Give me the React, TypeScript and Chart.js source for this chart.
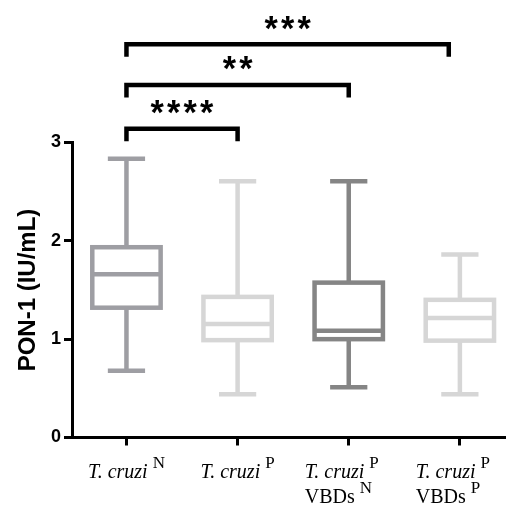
import React, { useEffect, useRef } from 'react';
import { Chart, registerables } from 'chart.js';

Chart.register(...registerables);

// ---- data ----
const categories = ['T. cruzi N', 'T. cruzi P', 'T. cruzi P VBDs N', 'T. cruzi P VBDs P'];
const labelMain = [['T. cruzi'], ['T. cruzi'], ['T. cruzi', 'VBDs'], ['T. cruzi', 'VBDs']];
const labelSup = [['N'], ['P'], ['P', 'N'], ['P', 'P']];
const mins = [0.68, 0.44, 0.51, 0.44];
const q1s = [1.32, 0.99, 1.0, 0.985];
const medians = [1.66, 1.155, 1.085, 1.215];
const q3s = [1.935, 1.43, 1.575, 1.4];
const maxs = [2.835, 2.605, 2.605, 1.86];
const boxColors = ['#9e9ea3', '#d6d6d6', '#858585', '#d6d6d6'];
const yTicks = [0, 1, 2, 3];
const yTitle = 'PON-1 (IU/mL)';
const bracketFrom = [0, 0, 0];
const bracketTo = [1, 2, 2.9];
const bracketY = [3.14, 3.585, 4.0];
const bracketStars = ['****', '**', '***'];

const BOX_W = 0.615;
const CAP_W = 0.335;
const LW = 4.5;

const boxPlugin = {
  id: 'boxplots',
  afterDatasetsDraw(chart: any) {
    const { ctx, scales } = chart;
    const x = scales.x;
    const y = scales.y;
    ctx.save();
    ctx.lineWidth = LW;
    ctx.lineCap = 'butt';
    ctx.lineJoin = 'miter';
    for (let i = 0; i < categories.length; i++) {
      const cx = x.getPixelForValue(i);
      const bl = x.getPixelForValue(i - BOX_W / 2);
      const br = x.getPixelForValue(i + BOX_W / 2);
      const cl = x.getPixelForValue(i - CAP_W / 2);
      const cr = x.getPixelForValue(i + CAP_W / 2);
      const pMin = y.getPixelForValue(mins[i]);
      const pQ1 = y.getPixelForValue(q1s[i]);
      const pMed = y.getPixelForValue(medians[i]);
      const pQ3 = y.getPixelForValue(q3s[i]);
      const pMax = y.getPixelForValue(maxs[i]);
      ctx.strokeStyle = boxColors[i];
      ctx.beginPath();
      ctx.moveTo(cx, pQ3);
      ctx.lineTo(cx, pMax);
      ctx.moveTo(cl, pMax);
      ctx.lineTo(cr, pMax);
      ctx.moveTo(cx, pQ1);
      ctx.lineTo(cx, pMin);
      ctx.moveTo(cl, pMin);
      ctx.lineTo(cr, pMin);
      ctx.moveTo(bl, pMed);
      ctx.lineTo(br, pMed);
      ctx.stroke();
      ctx.strokeRect(bl, pQ3, br - bl, pQ1 - pQ3);
    }
    ctx.restore();
  },
  afterDraw(chart: any) {
    const { ctx, scales } = chart;
    const x = scales.x;
    const y = scales.y;
    ctx.save();
    ctx.strokeStyle = '#000';
    ctx.lineWidth = LW;
    ctx.lineJoin = 'miter';
    ctx.lineCap = 'butt';
    const legPx = 12.5;
    const starFamily = 'Arial, "Liberation Sans", sans-serif';
    ctx.font = `bold 100px ${starFamily}`;
    const m = ctx.measureText('*');
    const gh = m.actualBoundingBoxAscent + m.actualBoundingBoxDescent;
    const size = gh > 0 ? (100 * 13) / gh : 40;
    ctx.font = `bold ${size}px ${starFamily}`;
    const m2 = ctx.measureText('*');
    const midOff = (m2.actualBoundingBoxAscent - m2.actualBoundingBoxDescent) / 2;
    for (let b = 0; b < bracketFrom.length; b++) {
      const xl = x.getPixelForValue(bracketFrom[b]);
      const xr = x.getPixelForValue(bracketTo[b]);
      const py = y.getPixelForValue(bracketY[b]);
      ctx.beginPath();
      ctx.moveTo(xl, py + legPx);
      ctx.lineTo(xl, py);
      ctx.lineTo(xr, py);
      ctx.lineTo(xr, py + legPx);
      ctx.stroke();
      ctx.font = `bold ${size}px ${starFamily}`;
      ctx.fillStyle = '#000';
      ctx.textAlign = 'center';
      ctx.textBaseline = 'alphabetic';
      const n = bracketStars[b].length;
      const pitch = 16.5;
      const scx = (xl + xr) / 2;
      const scy = py - 21.5;
      for (let k = 0; k < n; k++) {
        const sx = scx + (k - (n - 1) / 2) * pitch;
        ctx.fillText('*', sx, scy + midOff);
      }
    }
    const mainFont = 'italic 20px "Liberation Serif", "Times New Roman", serif';
    const plainFont = '20px "Liberation Serif", "Times New Roman", serif';
    const supFont = '17px "Liberation Serif", "Times New Roman", serif';
    const baseTop = x.top;
    ctx.fillStyle = '#000';
    ctx.textAlign = 'left';
    ctx.textBaseline = 'alphabetic';
    for (let i = 0; i < categories.length; i++) {
      const cx = x.getPixelForValue(i);
      const lines = labelMain[i];
      const widths: number[] = [];
      for (let l = 0; l < lines.length; l++) {
        ctx.font = l === 0 ? mainFont : plainFont;
        const w1 = ctx.measureText(lines[l]).width;
        ctx.font = supFont;
        const w2 = ctx.measureText(labelSup[i][l]).width;
        widths.push(w1 + 5 + w2);
      }
      const maxW = Math.max(...widths);
      const shift = lines.length > 1 ? -7 : 0;
      for (let l = 0; l < lines.length; l++) {
        const startX = lines.length > 1 ? cx - maxW / 2 + shift : cx - widths[l] / 2;
        const base = baseTop + 40.5 + l * 25;
        ctx.font = l === 0 ? mainFont : plainFont;
        ctx.fillText(lines[l], startX, base);
        const w1 = ctx.measureText(lines[l]).width;
        ctx.font = supFont;
        ctx.fillText(labelSup[i][l], startX + w1 + 5, base - 10);
      }
    }
    ctx.restore();
  },
};

export default function App() {
  const ref = useRef<HTMLCanvasElement | null>(null);
  useEffect(() => {
    document.body.style.margin = '0';
    document.body.style.overflow = 'hidden';
    const canvas = ref.current!;
    const chart = new Chart(canvas, {
      type: 'scatter',
      data: {
        datasets: [
          {
            label: 'median',
            data: medians.map((m, i) => ({ x: i, y: m })),
            pointRadius: 0,
            showLine: false,
          },
        ],
      },
      options: {
        animation: false,
        responsive: false,
        devicePixelRatio: 1,
        events: [],
        layout: { padding: { top: 142.5, right: 0, bottom: 0, left: 0 } },
        plugins: { legend: { display: false }, tooltip: { enabled: false } },
        scales: {
          x: {
            type: 'linear',
            position: 'bottom',
            min: -0.49,
            max: 3.415,
            afterBuildTicks: (s: any) => {
              s.ticks = categories.map((_, i) => ({ value: i }));
            },
            afterFit: (s: any) => {
              s.height = 68.5;
            },
            ticks: { display: false },
            grid: { drawOnChartArea: false, tickLength: 8, lineWidth: 3, color: '#000' },
            border: { color: '#000', width: 3 },
          },
          y: {
            type: 'linear',
            min: 0,
            max: 3,
            afterBuildTicks: (s: any) => {
              s.ticks = yTicks.map((v) => ({ value: v }));
            },
            afterFit: (s: any) => {
              s.width = 72;
            },
            ticks: {
              color: '#000',
              padding: 3,
              font: { family: 'Arial, "Liberation Sans", sans-serif', weight: 'bold', size: 18 },
            },
            grid: { drawOnChartArea: false, tickLength: 8, lineWidth: 3, color: '#000' },
            border: { color: '#000', width: 3 },
            title: {
              display: true,
              text: yTitle,
              color: '#000',
              padding: { top: 14, bottom: 0 },
              font: { family: 'Arial, "Liberation Sans", sans-serif', weight: 'bold', size: 24 },
            },
          },
        },
      },
      plugins: [boxPlugin],
    } as any);
    return () => chart.destroy();
  }, []);
  return <canvas ref={ref} width={506} height={506} style={{ display: 'block', width: 506, height: 506 }} />;
}
